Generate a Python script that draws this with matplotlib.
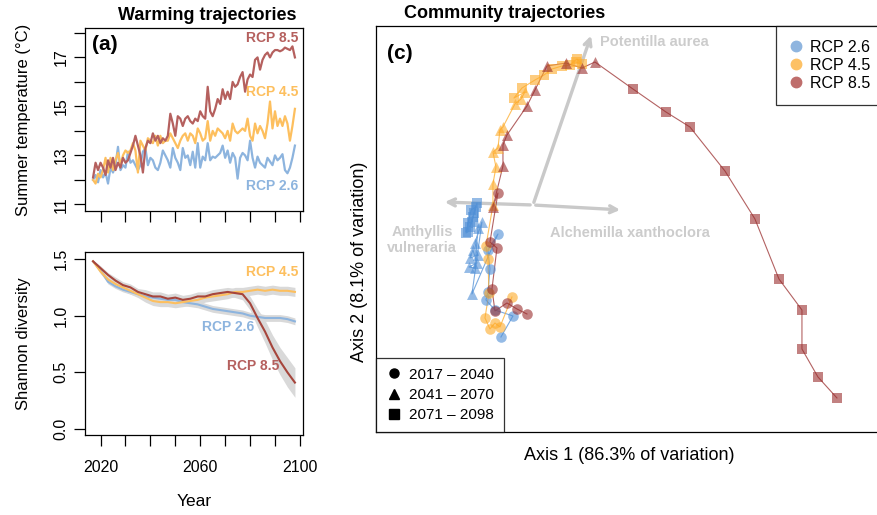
import matplotlib.pyplot as plt
from matplotlib.lines import Line2D
from matplotlib.ticker import FixedLocator

plt.rcParams['font.family'] = ['Liberation Sans', 'DejaVu Sans']

# ---- warming trajectories (summer temperature, deg C) ----
years = list(range(2017, 2099))
temp_26 = [12.0, 12.2, 11.9, 12.4, 12.1, 12.3, 11.85, 12.5, 12.3, 12.6,
           13.35, 12.4, 12.6, 12.5, 13.15, 12.7, 12.8, 12.6, 12.4, 12.6,
           13.15, 13.3, 12.6, 12.9, 12.8, 12.5, 12.4, 12.7, 13.2, 13.0,
           12.8, 12.5, 13.3, 12.9, 12.7, 12.4, 13.3, 12.9, 13.0, 12.6,
           13.15, 12.5, 13.5, 12.5, 12.95, 12.8, 13.5, 12.8, 12.95, 12.9,
           13.0, 13.1, 13.4, 12.9, 13.2, 12.7, 13.1, 12.9, 12.05, 12.9,
           13.1, 13.0, 12.8, 13.6, 12.9, 12.5, 12.95, 12.7, 12.6, 12.5,
           12.9, 12.75, 12.6, 13.0, 12.8, 12.9, 13.05, 12.4, 12.27, 12.5,
           12.9, 13.4]
temp_45 = [12.0, 11.85, 12.25, 12.1, 12.4, 12.9, 12.3, 12.9, 12.4, 12.8,
           13.1, 12.6, 13.0, 13.2, 13.1, 13.2, 13.5, 13.2, 12.3, 13.6,
           13.4, 13.2, 13.7, 13.6, 13.5, 13.8, 13.4, 13.8, 13.5, 13.6,
           13.6, 13.9, 13.7, 13.5, 13.3, 13.6, 13.8, 13.9, 13.6, 13.9,
           13.8, 13.5, 14.1, 13.9, 13.6, 13.7, 14.4, 13.6, 14.0, 13.8,
           14.1, 14.0, 13.9, 13.7, 14.0, 13.6, 14.3, 14.0, 13.9, 14.0,
           14.1, 14.0, 14.5, 13.8, 13.6, 14.3, 13.9, 14.2, 14.0, 13.7,
           14.3, 15.2, 14.1, 14.8, 14.2, 14.5, 14.2, 14.6, 14.3, 13.6,
           14.2, 14.9]
temp_85 = [12.1, 12.7, 12.4, 12.7, 12.5, 12.2, 12.8, 12.5, 12.9, 12.4,
           12.7, 12.5, 12.9, 12.7, 12.8, 13.1, 13.4, 13.8, 13.4, 13.0,
           12.3, 13.3, 13.6, 13.5, 13.9, 13.6, 13.8, 13.5, 13.7, 13.6,
           13.8, 14.7, 14.3, 13.8, 14.6, 14.5, 14.2, 14.5, 14.6, 14.4,
           14.3, 14.5, 14.4, 14.8, 14.6, 14.5, 15.8, 14.8, 14.6, 14.9,
           15.3, 15.1, 15.7, 15.3, 15.6, 15.3, 16.0, 15.8, 15.9, 16.2,
           16.4, 15.6, 16.1, 16.3, 16.2, 16.9, 17.0, 16.5, 16.9, 17.1,
           17.2, 17.0, 17.2, 17.3, 17.3, 17.25, 17.3, 17.4, 17.35, 17.3,
           17.45, 17.0]

# ---- Shannon diversity (every 3 years) with ribbon half widths ----
div_years = list(range(2017, 2099, 3))
div_26 = [1.48, 1.40, 1.30, 1.26, 1.23, 1.21, 1.19, 1.17, 1.16, 1.15,
          1.14, 1.14, 1.12, 1.11, 1.10, 1.08, 1.06, 1.05, 1.04, 1.03,
          1.02, 1.00, 0.99, 0.98, 0.98, 0.98, 0.97, 0.95]
div_45 = [1.48, 1.39, 1.32, 1.28, 1.25, 1.22, 1.19, 1.16, 1.13, 1.12,
          1.12, 1.11, 1.12, 1.13, 1.14, 1.16, 1.17, 1.18, 1.19, 1.21,
          1.21, 1.22, 1.23, 1.22, 1.23, 1.22, 1.22, 1.21]
div_85 = [1.48, 1.42, 1.36, 1.31, 1.27, 1.25, 1.21, 1.19, 1.17, 1.17,
          1.15, 1.16, 1.14, 1.15, 1.17, 1.17, 1.19, 1.20, 1.21, 1.20,
          1.19, 1.11, 0.98, 0.86, 0.72, 0.60, 0.50, 0.41]
band_26 = [0.01, 0.02, 0.02, 0.02, 0.02, 0.02, 0.02, 0.03, 0.03, 0.03,
           0.03, 0.03, 0.03, 0.03, 0.03, 0.03, 0.03, 0.03, 0.03, 0.03,
           0.03, 0.03, 0.03, 0.03, 0.03, 0.03, 0.03, 0.03]
band_45 = [0.01, 0.02, 0.02, 0.02, 0.03, 0.03, 0.03, 0.04, 0.04, 0.04,
           0.04, 0.04, 0.04, 0.04, 0.04, 0.04, 0.04, 0.04, 0.04, 0.04,
           0.04, 0.04, 0.04, 0.04, 0.04, 0.04, 0.04, 0.04]
band_85 = [0.01, 0.02, 0.02, 0.03, 0.03, 0.03, 0.03, 0.04, 0.04, 0.04,
           0.04, 0.04, 0.04, 0.04, 0.04, 0.04, 0.04, 0.04, 0.04, 0.04,
           0.05, 0.06, 0.08, 0.10, 0.11, 0.12, 0.13, 0.13]

# ---- community trajectories (ordination scores, 3-year steps) ----
periods = ['o'] * 8 + ['^'] * 10 + ['s'] * 10
ord_26_x = [-0.32, -0.20, -0.38, -0.47, -0.45, -0.43, -0.45, -0.35,
            -0.61, -0.51, -0.58, -0.55, -0.63, -0.60, -0.56, -0.64, -0.58, -0.55,
            -0.56, -0.59, -0.61, -0.65, -0.65, -0.67, -0.62, -0.57, -0.63, -0.60]
ord_26_y = [-1.32, -1.11, -1.05, -0.95, -0.87, -0.64, -0.45, -0.29,
            -0.89, -0.17, -0.38, -0.50, -0.53, -0.45, -0.58, -0.62, -0.63, -0.23,
            0.02, -0.08, -0.17, -0.18, -0.27, -0.28, -0.05, -0.02, -0.22, -0.12]
ord_45_x = [-0.21, -0.33, -0.38, -0.43, -0.48, -0.44, -0.45, -0.47,
            -0.40, -0.40, -0.37, -0.40, -0.35, -0.33, -0.30, -0.18, -0.12, -0.08,
            -0.19, -0.11, 0.02, 0.11, 0.19, 0.29, 0.37, 0.44, 0.49, 0.43]
ord_45_y = [-0.92, -1.22, -1.18, -1.24, -1.13, -0.88, -0.54, -0.41,
            0.00, 0.21, 0.38, 0.53, 0.57, 0.75, 0.78, 1.01, 1.06, 1.13,
            1.07, 1.17, 1.25, 1.30, 1.36, 1.39, 1.40, 1.46, 1.41, 1.43]
ord_85_x = [-0.06, -0.16, -0.26, -0.38, -0.41, -0.36, -0.43, -0.35,
            -0.40, -0.30, -0.30, -0.26, -0.06, 0.02, 0.14, 0.33, 0.49, 0.62,
            1.00, 1.33, 1.57, 1.92, 2.22, 2.46, 2.69, 2.69, 2.85, 3.04]
ord_85_y = [-1.09, -1.04, -0.98, -1.06, -0.84, -0.43, -0.37, 0.12,
            -0.02, 0.39, 0.60, 0.70, 0.99, 1.15, 1.39, 1.42, 1.37, 1.43,
            1.16, 0.93, 0.78, 0.34, -0.14, -0.74, -1.05, -1.44, -1.72, -1.93]

species = ['Potentilla aurea', 'Alchemilla xanthoclora', 'Anthyllis\nvulneraria']
load_x = [0.59, 0.90, -0.91]
load_y = [1.72, -0.05, 0.03]

c26, c45, c85 = '#8db4de', '#fdbf5e', '#b5605e'
c26_pt, c45_pt, c85_pt = '#4f8fd6', '#fdab2a', '#9a2e2e'

fig = plt.figure(figsize=(8.78, 5.15), dpi=100)
ax_a = fig.add_axes([0.0968, 0.5903, 0.2483, 0.3553])
ax_b = fig.add_axes([0.0968, 0.1553, 0.2483, 0.3553])
ax_c = fig.add_axes([0.4282, 0.1612, 0.5763, 0.7883])

for ax in (ax_a, ax_b):
    ax.set_xlim(2013.76, 2101.24)
    ax.xaxis.set_major_locator(FixedLocator([2020, 2060, 2100]))
    ax.xaxis.set_minor_locator(FixedLocator([2030, 2040, 2050, 2070, 2080, 2090]))
    ax.tick_params(which='both', direction='out', length=8, width=0.9, labelsize=11.5)
    ax.tick_params(axis='y', labelrotation=90, pad=4)
    ax.tick_params(axis='x', pad=10)
    for s in ax.spines.values():
        s.set_linewidth(0.9)

# (a) temperature
ax_a.plot(years, temp_26, color=c26, lw=1.6)
ax_a.plot(years, temp_45, color=c45, lw=1.6)
ax_a.plot(years, temp_85, color=c85, lw=1.6)
ax_a.set_ylim(10.73, 18.2)
ax_a.yaxis.set_major_locator(FixedLocator([11, 13, 15, 17]))
ax_a.yaxis.set_minor_locator(FixedLocator([12, 14, 16, 18]))
ax_a.tick_params(axis='x', which='both', labelbottom=False)
ax_a.set_ylabel('Summer temperature (°C)', fontsize=12, labelpad=16)
for lab in ax_a.get_yticklabels():
    lab.set_va('center')
ax_a.text(2099.5, 17.79, 'RCP 8.5', color=c85, fontsize=10, fontweight='bold', ha='right', va='center')
ax_a.text(2099.5, 15.58, 'RCP 4.5', color=c45, fontsize=10, fontweight='bold', ha='right', va='center')
ax_a.text(2099.5, 11.75, 'RCP 2.6', color=c26, fontsize=10, fontweight='bold', ha='right', va='center')
ax_a.text(0.03, 0.96, '(a)', transform=ax_a.transAxes, fontsize=15, fontweight='bold', va='top')
fig.text(207 / 878, 1 - 15 / 515, 'Warming trajectories', fontsize=13, fontweight='bold',
         ha='center', va='center')

# (b) diversity
for vals, band in ((div_26, band_26), (div_45, band_45), (div_85, band_85)):
    lo = [v - b for v, b in zip(vals, band)]
    hi = [v + b for v, b in zip(vals, band)]
    ax_b.fill_between(div_years, lo, hi, color='#d9d9d9', lw=0, zorder=1)
for vals, col in ((div_26, c26), (div_45, c45), (div_85, '#a6453c')):
    ax_b.plot(div_years, vals, color=col, lw=1.5, zorder=2)
ax_b.set_ylim(-0.053, 1.562)
ax_b.yaxis.set_major_locator(FixedLocator([0.0, 0.5, 1.0, 1.5]))
ax_b.set_yticklabels(['0.0', '0.5', '1.0', '1.5'])
for lab in ax_b.get_yticklabels():
    lab.set_va('center')
ax_b.set_ylabel('Shannon diversity', fontsize=12, labelpad=16)
ax_b.set_xlabel('Year', fontsize=12.5, labelpad=14)
ax_b.text(2099.5, 1.386, 'RCP 4.5', color=c45, fontsize=10, fontweight='bold', ha='right', va='center')
ax_b.text(2071.2, 0.90, 'RCP 2.6', color=c26, fontsize=10, fontweight='bold', ha='center', va='center')
ax_b.text(2081.3, 0.556, 'RCP 8.5', color=c85, fontsize=10, fontweight='bold', ha='center', va='center')

# (c) community trajectories
ax_c.set_xlim(-1.57, 3.49)
ax_c.set_ylim(-2.27, 1.79)
ax_c.set_xticks([])
ax_c.set_yticks([])
for s in ax_c.spines.values():
    s.set_linewidth(0.9)

for lx, ly in zip(load_x, load_y):
    ax_c.annotate('', xy=(lx, ly), xytext=(0, 0),
                  arrowprops=dict(arrowstyle='->,head_length=0.5,head_width=0.25',
                                  color='#c9c9c9', lw=2.4), zorder=1)
ax_c.text(0.67, 1.63, species[0], color='#cccccc', fontsize=10.5, fontweight='bold', ha='left', va='center')
ax_c.text(0.17, -0.28, species[1], color='#cccccc', fontsize=10.5, fontweight='bold', ha='left', va='center')
ax_c.text(-1.11, -0.35, species[2], color='#cccccc', fontsize=10.5, fontweight='bold', ha='center', va='center',
          linespacing=1.15)

for xs, ys, col in ((ord_26_x, ord_26_y, c26_pt), (ord_45_x, ord_45_y, c45_pt), (ord_85_x, ord_85_y, c85_pt)):
    ax_c.plot(xs, ys, color=col, lw=0.8, alpha=0.75, zorder=2)
    for m in ('o', '^', 's'):
        px = [x for x, p in zip(xs, periods) if p == m]
        py = [y for y, p in zip(ys, periods) if p == m]
        size = {'o': 58, '^': 62, 's': 44}[m]
        ax_c.scatter(px, py, marker=m, s=size, color=col, alpha=0.6, lw=0, zorder=3)

ax_c.set_xlabel('Axis 1 (86.3% of variation)', fontsize=13, labelpad=11)
fig.text(360 / 878, 1 - 262 / 515, 'Axis 2 (8.1% of variation)', rotation=90, fontsize=13,
         ha='center', va='center')
ax_c.text(0.022, 0.955, '(c)', transform=ax_c.transAxes, fontsize=15, fontweight='bold', va='top')
fig.text(505 / 878, 1 - 13 / 515, 'Community trajectories', fontsize=13, fontweight='bold',
         ha='center', va='center')

h_rcp = [Line2D([], [], ls='', marker='o', ms=7.5, color=c) for c in ('#8fb5df', '#fdc165', '#bf6e6c')]
leg1 = ax_c.legend(h_rcp, ['RCP 2.6', 'RCP 4.5', 'RCP 8.5'], loc='upper right',
                   bbox_to_anchor=(1.004, 1.0), borderaxespad=0,
                   fontsize=11.5, frameon=True, fancybox=False, edgecolor='black',
                   labelspacing=0.2, handletextpad=0.5, handlelength=0.8, borderpad=0.85)
leg1.get_frame().set_linewidth(0.9)
ax_c.add_artist(leg1)
h_per = [Line2D([], [], ls='', marker=m, ms=6.5, color='black') for m in ('o', '^', 's')]
leg2 = ax_c.legend(h_per, ['2017 – 2040', '2041 – 2070', '2071 – 2098'], loc='lower left',
                   borderaxespad=0, fontsize=11, frameon=True, fancybox=False, edgecolor='black',
                   labelspacing=0.4, handletextpad=0.4, handlelength=1.1, borderpad=0.65)
leg2.get_frame().set_linewidth(0.9)

fig.savefig('out.png', dpi=100)
